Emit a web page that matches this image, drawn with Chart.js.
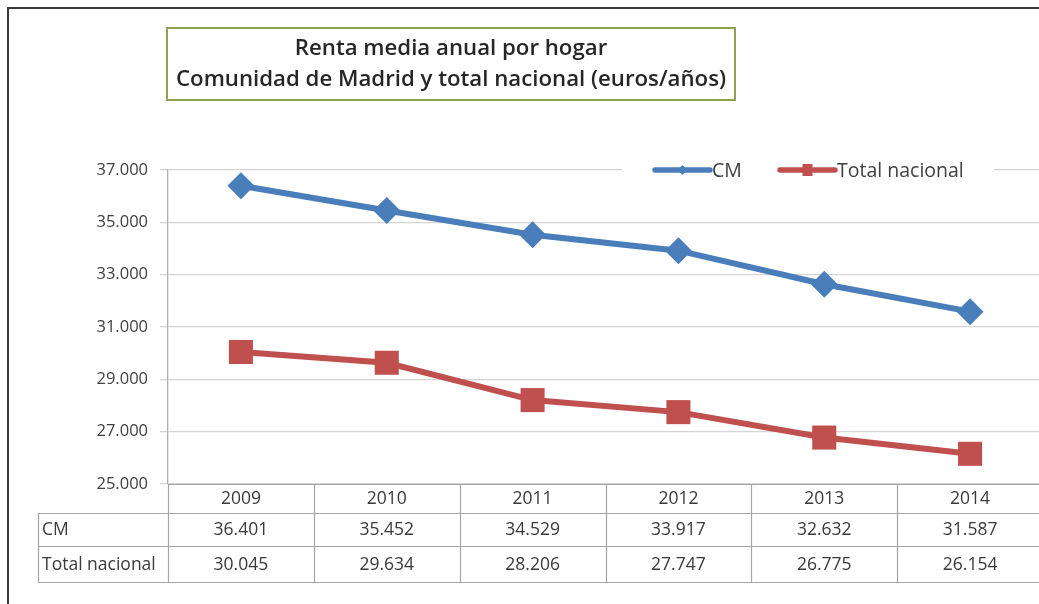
<!DOCTYPE html>
<html><head><meta charset="utf-8">
<script src="https://cdn.jsdelivr.net/npm/chart.js@4/dist/chart.umd.min.js"></script>
<style>html,body{margin:0;padding:0;background:#fff;overflow:hidden;width:1039px;height:604px}#c{display:block}</style>
</head><body>
<canvas id="c" width="1060" height="604"></canvas>
<script>
const years = ['2009','2010','2011','2012','2013','2014'];
const cmValues = [36401, 35452, 34529, 33917, 32632, 31587];
const nacionalValues = [30045, 29634, 28206, 27747, 26775, 26154];
const seriesNames = ['CM', 'Total nacional'];
const titleLines = ['Renta media anual por hogar', 'Comunidad de Madrid y total nacional (euros/años)'];
const yMin = 25000, yMax = 37000, yStep = 2000;

const BLUE = '#4a7ebb', RED = '#c0504d';
const fmt = v => v.toString().replace(/\B(?=(\d{3})+(?!\d))/g, '.');

const decor = {
  id: 'decor',
  beforeDraw(chart) {
    const ctx = chart.ctx;
    ctx.save();
    ctx.fillStyle = '#fff';
    ctx.fillRect(0, 0, chart.width, chart.height);
    ctx.restore();
  },
  afterDraw(chart) {
    const ctx = chart.ctx;
    const x = chart.scales.x, y = chart.scales.y;
    const area = chart.chartArea;
    ctx.save();
    // outer frame (top & left)
    ctx.strokeStyle = '#3a3a3a'; ctx.lineWidth = 2;
    ctx.beginPath(); ctx.moveTo(8, 604); ctx.lineTo(8, 8); ctx.lineTo(1060, 8); ctx.stroke();

    // title box
    ctx.strokeStyle = '#8ea352'; ctx.lineWidth = 2;
    ctx.strokeRect(167, 28, 568, 72);
    ctx.fillStyle = '#262626';
    ctx.textAlign = 'center'; ctx.textBaseline = 'middle';
    ctx.font = '600 17px "Open Sans"';
    const w2 = ctx.measureText(titleLines[1]).width;
    const fs = 17 * 550 / w2;
    ctx.font = '600 ' + fs.toFixed(2) + 'px "Open Sans"';
    ctx.fillText(titleLines[0], 451, 49);
    ctx.fillText(titleLines[1], 451, 80);

    // legend
    const ly = y.getPixelForValue(yMax);
    ctx.fillStyle = '#fff';
    ctx.fillRect(622, ly - 13, 372, 26);
    ctx.font = '19.5px "Open Sans"'; ctx.textAlign = 'left'; ctx.textBaseline = 'middle';
    const items = [
      {x0: 655, x1: 710, color: BLUE, tx: 712, label: seriesNames[0], style: 'diamond'},
      {x0: 780, x1: 835, color: RED, tx: 837, label: seriesNames[1], style: 'square'}
    ];
    items.forEach(it => {
      ctx.strokeStyle = it.color; ctx.lineWidth = 5.5; ctx.lineCap = 'round';
      ctx.beginPath(); ctx.moveTo(it.x0, ly); ctx.lineTo(it.x1, ly); ctx.stroke();
      ctx.fillStyle = it.color;
      const cx = (it.x0 + it.x1) / 2;
      if (it.style === 'diamond') {
        ctx.beginPath(); ctx.moveTo(cx, ly - 5); ctx.lineTo(cx + 5, ly); ctx.lineTo(cx, ly + 5); ctx.lineTo(cx - 5, ly); ctx.closePath(); ctx.fill();
      } else {
        ctx.fillRect(cx - 5, ly - 6, 10, 12);
      }
      ctx.fillStyle = '#404040';
      ctx.fillText(it.label, it.tx, ly + 1);
    });

    // data table
    const top = area.bottom;
    const rows = [top, 513, 546, 582];
    const half = (x.getPixelForValue(1) - x.getPixelForValue(0)) / 2;
    const leftTab = 38;
    ctx.strokeStyle = '#a6a6a6'; ctx.lineWidth = 1.2; ctx.lineCap = 'butt';
    ctx.beginPath();
    ctx.moveTo(area.left, rows[0] + 0.5); ctx.lineTo(1060, rows[0] + 0.5);
    for (let i = 1; i < rows.length; i++) { ctx.moveTo(leftTab, rows[i] + 0.5); ctx.lineTo(1060, rows[i] + 0.5); }
    ctx.moveTo(leftTab + 0.5, rows[1]); ctx.lineTo(leftTab + 0.5, rows[3]);
    for (let i = 0; i <= years.length; i++) {
      const bx = Math.round(x.getPixelForValue(i) - half) + 0.5;
      ctx.moveTo(bx, rows[0]); ctx.lineTo(bx, rows[3]);
    }
    ctx.stroke();
    ctx.fillStyle = '#3a3a3a';
    ctx.font = '17.5px "Open Sans"'; ctx.textBaseline = 'middle';
    ctx.textAlign = 'left';
    ctx.fillText(seriesNames[0], 42, (rows[1] + rows[2]) / 2 + 1);
    ctx.fillText(seriesNames[1], 42, (rows[2] + rows[3]) / 2 + 1);
    ctx.textAlign = 'center';
    years.forEach((yr, i) => {
      const cx = x.getPixelForValue(i);
      ctx.fillText(yr, cx, (rows[0] + rows[1]) / 2 + 1);
      ctx.fillText(fmt(cmValues[i]), cx, (rows[1] + rows[2]) / 2 + 1);
      ctx.fillText(fmt(nacionalValues[i]), cx, (rows[2] + rows[3]) / 2 + 1);
    });
    ctx.restore();
  }
};

new Chart(document.getElementById('c'), {
  type: 'line',
  data: {
    labels: years,
    datasets: [
      {label: seriesNames[0], data: cmValues, borderColor: BLUE, backgroundColor: BLUE, borderWidth: 6,
       pointStyle: 'rectRot', pointRadius: 13.5, pointHoverRadius: 13.5, pointBorderWidth: 0, tension: 0},
      {label: seriesNames[1], data: nacionalValues, borderColor: RED, backgroundColor: RED, borderWidth: 6,
       pointStyle: 'rect', pointRadius: 17, pointHoverRadius: 17, pointBorderWidth: 0, tension: 0}
    ]
  },
  options: {
    responsive: false, animation: false, devicePixelRatio: 1,
    layout: {padding: {top: 170, bottom: 120, left: 0, right: 16}},
    plugins: {legend: {display: false}, title: {display: false}, tooltip: {enabled: false}},
    scales: {
      x: {display: false, offset: true},
      y: {
        min: yMin, max: yMax,
        afterFit: s => { s.width = 168; },
        ticks: {stepSize: yStep, padding: 12, color: '#404040', font: {family: 'Open Sans', size: 16.5}, callback: v => fmt(v)},
        grid: {color: '#d4d4d4', lineWidth: 1.3, tickLength: 8},
        border: {display: true, color: '#b0b0b0', width: 1.3}
      }
    }
  },
  plugins: [decor]
});
</script>
</body></html>
